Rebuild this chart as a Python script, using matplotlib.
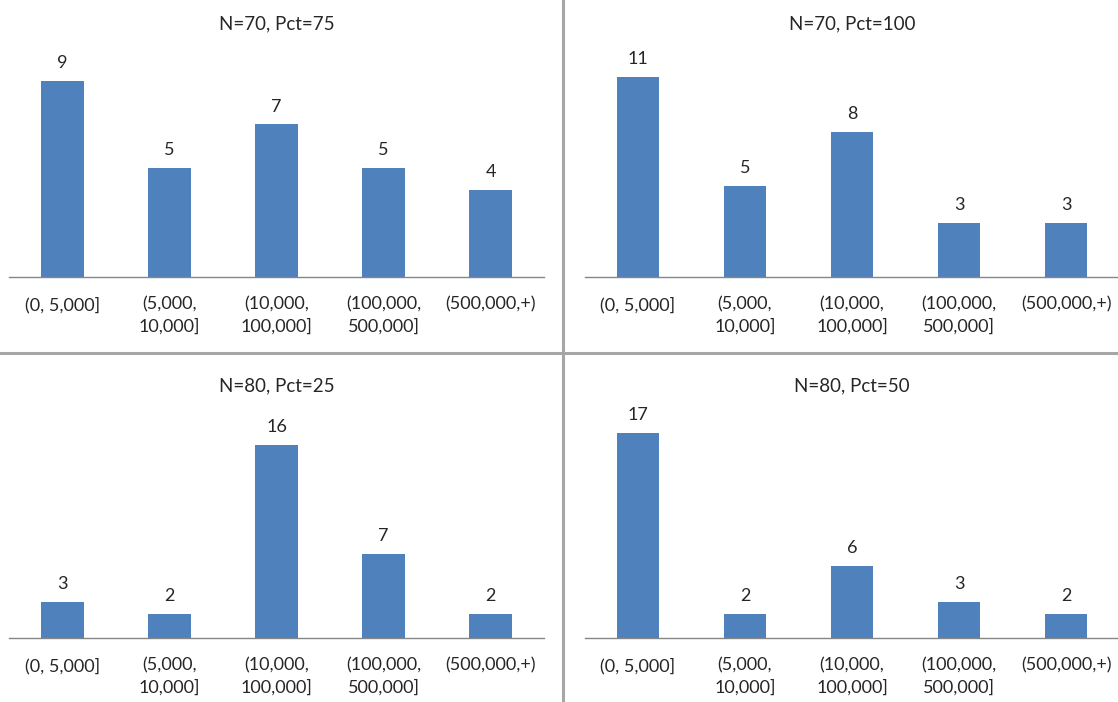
import matplotlib
matplotlib.use("Agg")
import matplotlib.pyplot as plt
from matplotlib.lines import Line2D

plt.rcParams['font.family'] = ['Lato', 'DejaVu Sans']

categories = ["(0, 5,000]", "(5,000,\n10,000]", "(10,000,\n100,000]",
              "(100,000,\n500,000]", "(500,000,+)"]

titles = ["N=70, Pct=75", "N=70, Pct=100", "N=80, Pct=25", "N=80, Pct=50"]
counts_n70_p75 = [9, 5, 7, 5, 4]
counts_n70_p100 = [11, 5, 8, 3, 3]
counts_n80_p25 = [3, 2, 16, 7, 2]
counts_n80_p50 = [17, 2, 6, 3, 2]
y_max = [10, 12, 18, 18]

series = [counts_n70_p75, counts_n70_p100, counts_n80_p25, counts_n80_p50]

bar_color = "#4F81BD"
axis_color = "#868686"
text_color = "#262626"

fig = plt.figure(figsize=(11.18, 7.02), dpi=100)

W, H = 1118, 702
panels = [
    (9, 59, 277),      # left px, top px, baseline px
    (584.5, 59, 277),
    (9, 421, 638),
    (584.5, 421, 638),
]
width_px = 535

for (lpx, tpx, bpx), title, vals, ym in zip(panels, titles, series, y_max):
    ax = fig.add_axes([lpx / W, (H - bpx) / H, width_px / W, (bpx - tpx) / H])
    x = range(len(categories))
    bars = ax.bar(x, vals, width=0.4, color=bar_color, zorder=2)
    ax.set_xlim(-0.5, len(categories) - 0.5)
    ax.set_ylim(0, ym)
    for rect, v in zip(bars, vals):
        ax.annotate(str(v), (rect.get_x() + rect.get_width() / 2, v),
                    xytext=(0, 7), textcoords="offset points",
                    ha="center", va="bottom", fontsize=13, color=text_color)
    ax.set_xticks(list(x))
    ax.set_xticklabels(categories, fontsize=13, color=text_color,
                       linespacing=1.45, va="top")
    ax.tick_params(axis="x", length=0, pad=14)
    ax.set_yticks([])
    for side in ("top", "right", "left"):
        ax.spines[side].set_visible(False)
    ax.spines["bottom"].set_color(axis_color)
    ax.spines["bottom"].set_linewidth(1.0)
    ax.set_title(title, fontsize=13.5, color=text_color, pad=21)

# panel dividers
fig.add_artist(Line2D([563 / W, 563 / W], [0, 1], color="#A6A6A6", lw=2.2,
                      transform=fig.transFigure))
fig.add_artist(Line2D([0, 1], [(H - 353) / H, (H - 353) / H], color="#A6A6A6",
                      lw=2.2, transform=fig.transFigure))

fig.savefig("out.png", dpi=100, facecolor="white")
